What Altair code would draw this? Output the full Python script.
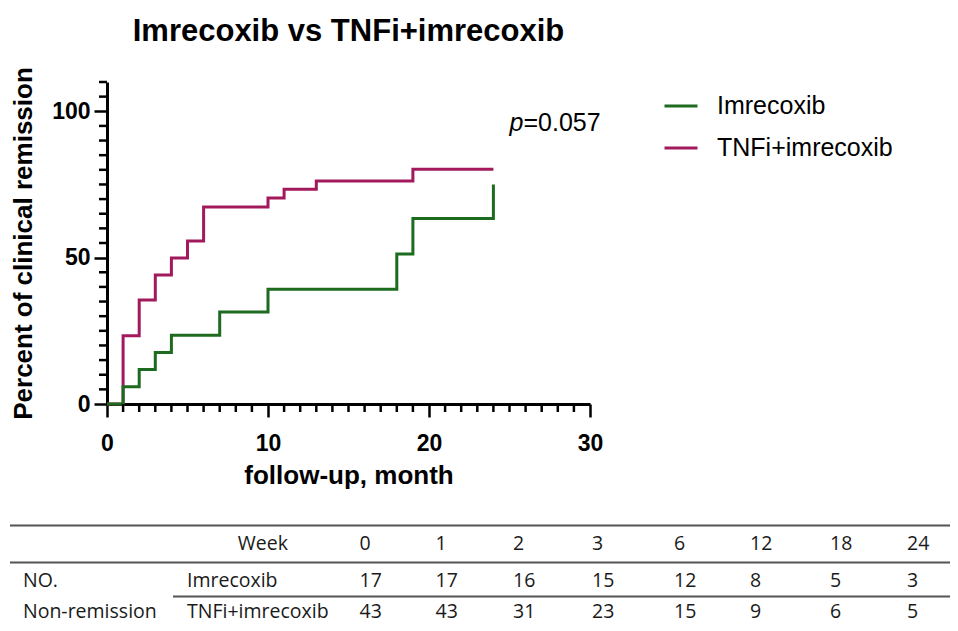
import altair as alt
import pandas as pd

# ---------------- data ----------------
chart_title = "Imrecoxib vs TNFi+imrecoxib"
groups = ["Imrecoxib", "TNFi+imrecoxib"]
colors = ["#1c6b1f", "#a2195c"]

imre_t = [0, 1, 2, 3, 4, 7, 10, 18, 19, 24]
imre_v = [0, 5.9, 11.8, 17.6, 23.5, 31.4, 39.2, 51.2, 63.4, 75.0]
tnfi_t = [0, 1, 2, 3, 4, 5, 6, 10, 11, 13, 19, 24]
tnfi_v = [0, 23.3, 35.5, 44.1, 49.9, 55.7, 67.3, 70.4, 73.4, 76.2, 80.2, 80.2]

x_major = [0, 10, 20, 30]
x_minor = [t for t in range(31) if t % 10]
y_major = [0, 50, 100]
y_minor = [v for v in range(5, 111, 5) if v % 50]

p_pos_t = [25.0]
p_pos_v = [96.0]
p_value = "=0.057"

weeks = [0, 1, 2, 3, 6, 12, 18, 24]
imre_n = [17, 17, 16, 15, 12, 8, 5, 3]
tnfi_n = [43, 43, 31, 23, 15, 9, 6, 5]
row_labels = ["NO.", "Non-remission"]
header_label = "Week"

# ---------------- layout / style ----------------
W, H = 483, 322
FONT = "Liberation Sans"
TFONT = "Open Sans"
col_px = [-84, 80, 252.5, 328.5, 406, 485, 567, 643, 723, 800]
row_px = [462, 499, 530]

df_imre = pd.DataFrame({"t": imre_t, "v": imre_v, "group": groups[0]})
df_tnfi = pd.DataFrame({"t": tnfi_t, "v": tnfi_v, "group": groups[1]})

xs = alt.Scale(domain=[0, 30], nice=False, zero=False)
ys = alt.Scale(domain=[0, 110], nice=False, zero=False)

x_axis = alt.Axis(
    values=x_major, tickSize=13, tickWidth=2.5, tickColor="black",
    domainColor="black", domainWidth=3, grid=False,
    labelFont=FONT, labelFontWeight="bold", labelFontSize=23, labelColor="black",
    labelPadding=15, labelFlush=False, labelOverlap=False,
    title="follow-up, month", titleFont=FONT, titleFontSize=26,
    titleFontWeight="bold", titleColor="black", titlePadding=7,
)
y_axis = alt.Axis(
    values=y_major, tickSize=13, tickWidth=2.5, tickColor="black",
    domainColor="black", domainWidth=3, grid=False,
    labelFont=FONT, labelFontWeight="bold", labelFontSize=23, labelColor="black",
    labelPadding=4, labelFlush=False, labelOverlap=False,
    title="Percent of clinical remission", titleFont=FONT, titleFontSize=26,
    titleFontWeight="bold", titleColor="black", titlePadding=15,
)

color = alt.Color(
    "group:N",
    scale=alt.Scale(domain=groups, range=colors),
    legend=alt.Legend(
        orient="none", legendX=556, legendY=6, title=None,
        symbolType="stroke", symbolSize=1089, symbolStrokeWidth=3,
        labelFont=FONT, labelFontSize=25, labelColor="black", labelLimit=400,
        labelOffset=18, rowPadding=11, padding=0,
    ),
)

km_tnfi = alt.Chart(df_tnfi).mark_line(interpolate="step-after", strokeWidth=3).encode(
    x=alt.X("t:Q", scale=xs, axis=x_axis),
    y=alt.Y("v:Q", scale=ys, axis=y_axis),
    color=color,
)
km_imre = alt.Chart(df_imre).mark_line(interpolate="step-after", strokeWidth=3).encode(
    x=alt.X("t:Q", scale=xs, axis=None),
    y=alt.Y("v:Q", scale=ys, axis=None),
    color=color,
)

xminor = alt.Chart(pd.DataFrame({"t": x_minor})).mark_rule(strokeWidth=2.5, color="black").encode(
    x=alt.X("t:Q", scale=xs, axis=None),
    y=alt.value(H), y2=alt.value(H + 8),
)
yminor = alt.Chart(pd.DataFrame({"v": y_minor})).mark_rule(strokeWidth=2.5, color="black").encode(
    y=alt.Y("v:Q", scale=ys, axis=None),
    x=alt.value(0), x2=alt.value(-8),
)

df_p = pd.DataFrame({"t": p_pos_t, "v": p_pos_v})
p_italic = alt.Chart(df_p).mark_text(
    text="p", font=FONT, fontSize=25, fontStyle="italic", align="left",
    baseline="middle", color="black",
).encode(x=alt.X("t:Q", scale=xs, axis=None), y=alt.Y("v:Q", scale=ys, axis=None))
p_rest = alt.Chart(df_p).mark_text(
    text=p_value, font=FONT, fontSize=25, align="left", dx=14,
    baseline="middle", color="black",
).encode(x=alt.X("t:Q", scale=xs, axis=None), y=alt.Y("v:Q", scale=ys, axis=None))

# ---------------- table ----------------
cells = []
for i, w in enumerate(weeks):
    cells.append({"col": i + 2, "row": 0, "text": str(w)})
cells.append({"col": 0, "row": 1, "text": row_labels[0]})
cells.append({"col": 1, "row": 1, "text": groups[0]})
cells.append({"col": 0, "row": 2, "text": row_labels[1]})
cells.append({"col": 1, "row": 2, "text": groups[1]})
for i, n in enumerate(imre_n):
    cells.append({"col": i + 2, "row": 1, "text": str(n)})
for i, n in enumerate(tnfi_n):
    cells.append({"col": i + 2, "row": 2, "text": str(n)})
df_cells = pd.DataFrame(cells)

tcol = alt.Scale(domain=list(range(10)), range=col_px, nice=False, zero=False)
trow = alt.Scale(domain=[0, 1, 2], range=row_px, nice=False, zero=False)

table_text = alt.Chart(df_cells).mark_text(
    font=TFONT, fontSize=19.5, align="left", baseline="middle", color="#1a1a1a",
).encode(
    x=alt.X("col:Q", scale=tcol, axis=None),
    y=alt.Y("row:Q", scale=trow, axis=None),
    text="text:N",
)
week_text = alt.Chart(pd.DataFrame({"col": [1], "row": [0], "text": [header_label]})).mark_text(
    font=TFONT, fontSize=19.5, align="right", dx=101, baseline="middle", color="#1a1a1a",
).encode(
    x=alt.X("col:Q", scale=tcol, axis=None),
    y=alt.Y("row:Q", scale=trow, axis=None),
    text="text:N",
)
rules_full = alt.Chart(pd.DataFrame({"row": [-0.5, 0.5]})).mark_rule(
    strokeWidth=2, color="#555555"
).encode(
    y=alt.Y("row:Q", scale=trow, axis=None),
    x=alt.value(-97), x2=alt.value(843),
)
rules_part = alt.Chart(pd.DataFrame({"row": [1.5]})).mark_rule(
    strokeWidth=2, color="#555555"
).encode(
    y=alt.Y("row:Q", scale=trow, axis=None),
    x=alt.value(66), x2=alt.value(843),
)

chart = alt.layer(
    km_tnfi, km_imre, xminor, yminor, p_italic, p_rest,
    table_text, week_text, rules_full, rules_part,
).resolve_scale(
    x="independent", y="independent"
).properties(
    width=W, height=H,
    title=alt.Title(chart_title, font=FONT, fontSize=31, fontWeight="bold",
                    color="black", anchor="middle", frame="group", offset=19),
    autosize=alt.AutoSizeParams(type="none"),
    padding={"left": 99, "top": 74, "right": 360, "bottom": 219},
).configure_view(stroke=None)

chart.save("out.html", embed_options={"renderer": "svg", "actions": False})
